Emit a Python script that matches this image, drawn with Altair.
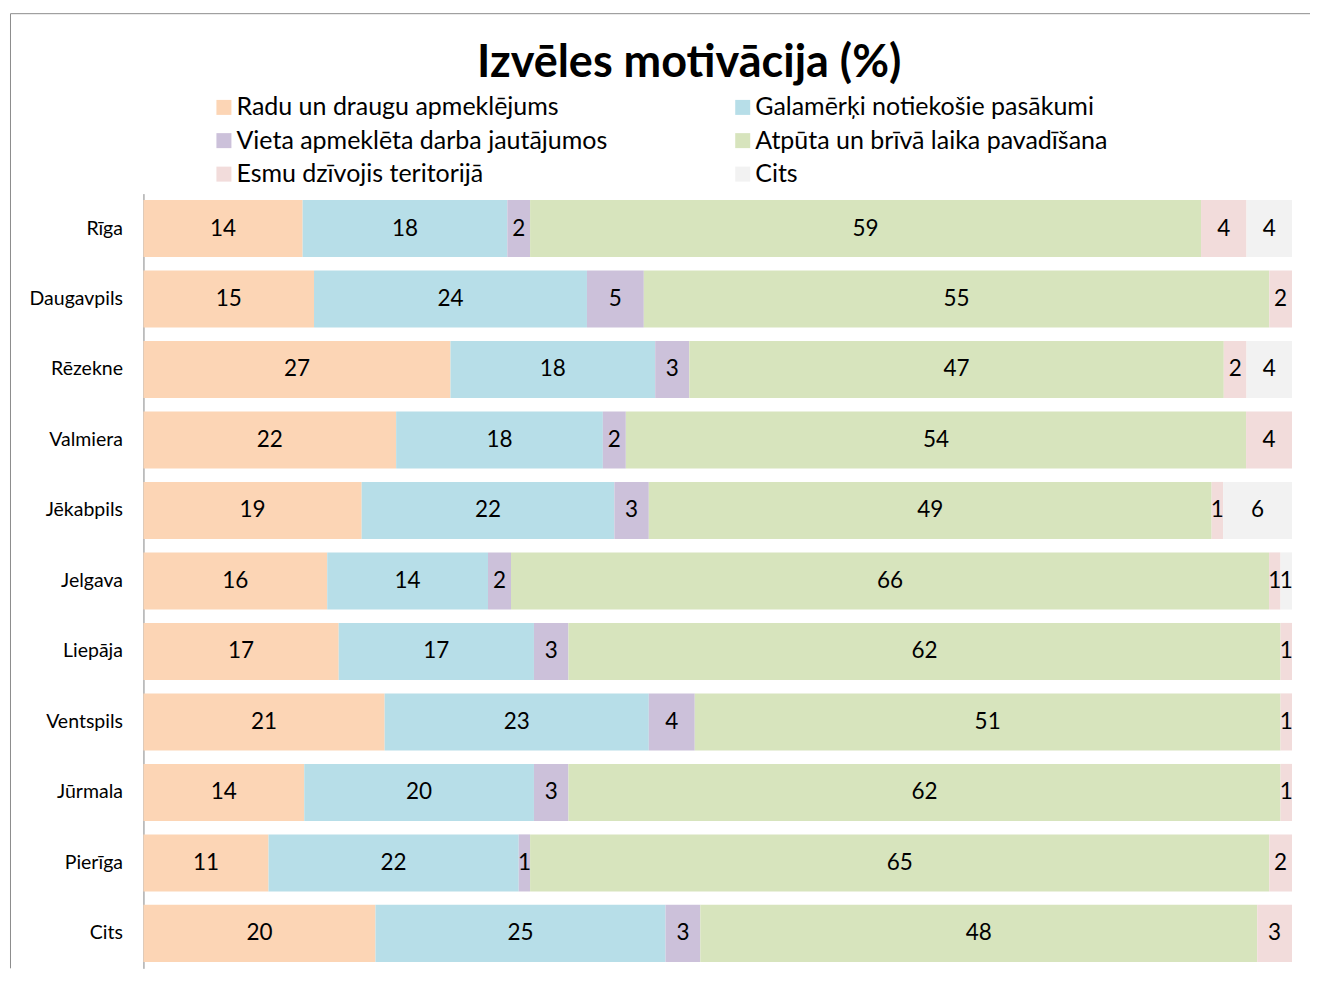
import altair as alt
import pandas as pd

cities = ["Rīga", "Daugavpils", "Rēzekne", "Valmiera", "Jēkabpils", "Jelgava",
          "Liepāja", "Ventspils", "Jūrmala", "Pierīga", "Cits"]
categories = ["Radu un draugu apmeklējums", "Galamērķi notiekošie pasākumi",
              "Vieta apmeklēta darba jautājumos", "Atpūta un brīvā laika pavadīšana",
              "Esmu dzīvojis teritorijā", "Cits"]
colors = ["#FCD5B5", "#B7DEE8", "#CCC1DA", "#D7E4BD", "#F2DCDB", "#F2F2F2"]

radu = [14, 15, 27, 22, 19, 16, 17, 21, 14, 11, 20]
galamerki = [18, 24, 18, 18, 22, 14, 17, 23, 20, 22, 25]
vieta = [2, 5, 3, 2, 3, 2, 3, 4, 3, 1, 3]
atputa = [59, 55, 47, 54, 49, 66, 62, 51, 62, 65, 48]
esmu = [4, 2, 2, 4, 1, 1, 1, 1, 1, 2, 3]
cits = [4, 0, 4, 0, 6, 1, 0, 0, 0, 0, 0]

series = [radu, galamerki, vieta, atputa, esmu, cits]
rows = []
for ci, city in enumerate(cities):
    for k, (cat, vals) in enumerate(zip(categories, series)):
        rows.append({"city": city, "category": cat, "order": k, "value": vals[ci]})
df = pd.DataFrame(rows)

FONT = "Lato"

base = alt.Chart(df).transform_joinaggregate(
    total="sum(value)", groupby=["city"]
).transform_window(
    cum="sum(value)", sort=[alt.SortField("order")], groupby=["city"], frame=[None, 0]
).transform_calculate(
    x0="(datum.cum - datum.value) / datum.total",
    x1="datum.cum / datum.total",
    xm="(datum.cum - datum.value / 2) / datum.total",
)

yenc = alt.Y(
    "city:N", sort=cities, title=None,
    scale=alt.Scale(paddingInner=0.19, paddingOuter=0.09),
    axis=alt.Axis(ticks=False, domainColor="#868686", domainWidth=1,
                  labelFont=FONT, labelFontSize=19.5, labelColor="#000000",
                  labelPadding=21, labelAlign="right"),
)
xscale = alt.Scale(domain=[0, 1], nice=False, zero=False)

bars = base.mark_bar(strokeWidth=0).encode(
    y=yenc,
    x=alt.X("x0:Q", scale=xscale, axis=None),
    x2="x1:Q",
    color=alt.Color(
        "category:N",
        scale=alt.Scale(domain=categories, range=colors),
        legend=alt.Legend(
            orient="none", legendX=68, legendY=-99, columns=2, direction="horizontal",
            title=None, symbolType="square", symbolSize=225, symbolStrokeWidth=0,
            symbolOpacity=1, labelFont=FONT, labelFontSize=25,
            labelColor="#000000", rowPadding=7.5, columnPadding=122,
            labelOffset=0, labelLimit=600, padding=0,
        ),
    ),
)

labels = base.transform_filter(alt.datum.value > 0).mark_text(
    font=FONT, fontSize=22.5, color="#000000", align="center", baseline="middle"
).encode(
    y=alt.Y("city:N", sort=cities),
    x=alt.X("xm:Q", scale=xscale),
    text=alt.Text("value:Q", format="d"),
)

frame_df = pd.DataFrame({"k": [0]})
top_rule = alt.Chart(frame_df).mark_rule(color="#8C8C8C", strokeWidth=1).encode(
    x=alt.value(-133), x2=alt.value(1167), y=alt.value(-180)
)
left_rule = alt.Chart(frame_df).mark_rule(color="#8C8C8C", strokeWidth=1).encode(
    x=alt.value(-133), y=alt.value(-180), y2=alt.value(775)
)

chart = alt.layer(bars, labels, top_rule, left_rule).properties(
    width=1149, height=775,
    padding={"left": 1.5, "top": 4.5, "right": 0, "bottom": 0},
    title=alt.TitleParams(
        text="Izvēles motivācija (%)", font=FONT, fontSize=45, fontWeight="bold",
        color="#000000", anchor="middle", frame="group", baseline="middle",
        offset=0, dy=94.5, dx=-28.5,
    ),
).configure_view(strokeWidth=0)

chart.save("out.html", embed_options={"renderer": "svg", "actions": False})
